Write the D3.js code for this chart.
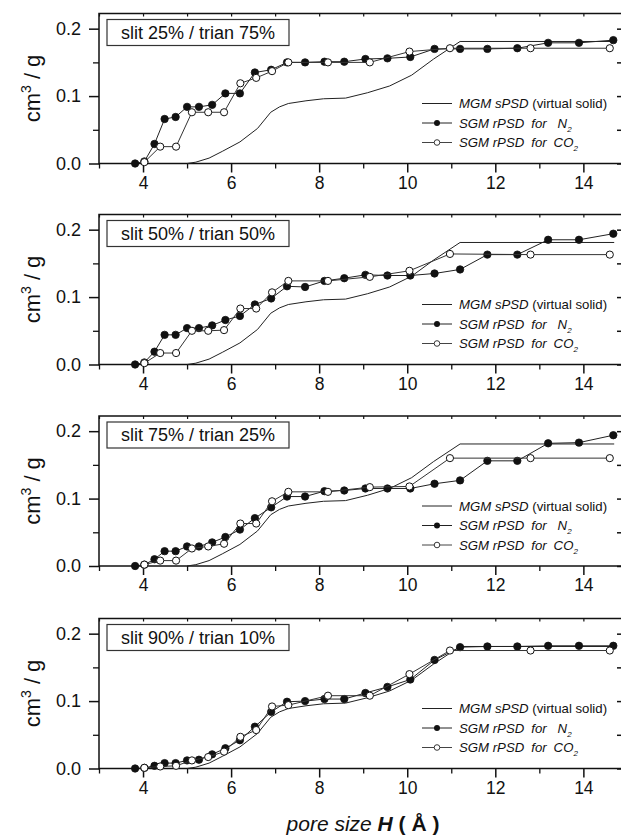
<!DOCTYPE html>
<html>
<head>
<meta charset="utf-8">
<script src="https://cdn.jsdelivr.net/npm/d3@7"></script>
<style>
  html, body { margin: 0; padding: 0; background: #fff; }
  svg { display: block; font-family: "Liberation Sans", Arial, sans-serif; }
</style>
</head>
<body>
<svg id="chart" width="621" height="836"></svg>
<script>
// Cumulative pore volume (cm3/g) versus pore size H (Å) for four slit/triangular mixtures.
const panelTitles = [
  "slit 25% / trian 75%",
  "slit 50% / trian 50%",
  "slit 75% / trian 25%",
  "slit 90% / trian 10%"
];

// MGM sPSD of the virtual solid (same in every panel)
const mgmX = [5.0, 5.2, 5.5, 5.8, 6.2, 6.6, 6.9, 7.1, 7.3, 7.7, 8.1, 8.6, 9.1, 9.6, 10.1, 10.6, 11.2, 14.7];
const mgmY = [0, 0.002, 0.008, 0.018, 0.032, 0.052, 0.076, 0.084, 0.089, 0.093, 0.096, 0.097, 0.105, 0.115, 0.131, 0.155, 0.181, 0.181];

// SGM rPSD from N2
const n2X = [3.82, 4.03, 4.26, 4.49, 4.74, 5.0, 5.27, 5.57, 5.87, 6.2, 6.54, 6.91, 7.27, 7.68, 8.12, 8.57, 9.05, 9.55, 10.07, 10.62, 11.2, 11.82, 12.5, 13.2, 13.9, 14.68];
const n2Slit25 = [0, 0.003, 0.029, 0.066, 0.069, 0.084, 0.084, 0.087, 0.104, 0.104, 0.135, 0.139, 0.150, 0.150, 0.151, 0.151, 0.155, 0.156, 0.158, 0.170, 0.170, 0.170, 0.171, 0.179, 0.179, 0.183];
const n2Slit50 = [0, 0.003, 0.019, 0.044, 0.044, 0.054, 0.054, 0.058, 0.066, 0.072, 0.089, 0.098, 0.116, 0.115, 0.124, 0.128, 0.133, 0.132, 0.132, 0.135, 0.141, 0.163, 0.163, 0.185, 0.185, 0.194];
const n2Slit75 = [0, 0.002, 0.010, 0.022, 0.022, 0.029, 0.029, 0.035, 0.043, 0.054, 0.071, 0.087, 0.103, 0.103, 0.111, 0.112, 0.115, 0.115, 0.115, 0.122, 0.127, 0.156, 0.156, 0.182, 0.183, 0.194];
const n2Slit90 = [0, 0.001, 0.004, 0.008, 0.008, 0.012, 0.013, 0.021, 0.030, 0.042, 0.062, 0.084, 0.099, 0.100, 0.103, 0.103, 0.112, 0.121, 0.132, 0.161, 0.180, 0.181, 0.181, 0.182, 0.182, 0.182];

// SGM rPSD from CO2
const co2X = [4.03, 4.39, 4.75, 5.11, 5.48, 5.84, 6.21, 6.57, 6.93, 7.30, 8.20, 9.15, 10.05, 10.97, 12.8, 14.6];
const co2Slit25 = [0.002, 0.025, 0.025, 0.076, 0.076, 0.076, 0.119, 0.127, 0.137, 0.150, 0.150, 0.150, 0.166, 0.171, 0.171, 0.171];
const co2Slit50 = [0.002, 0.017, 0.017, 0.050, 0.050, 0.051, 0.083, 0.083, 0.107, 0.124, 0.124, 0.130, 0.139, 0.164, 0.163, 0.163];
const co2Slit75 = [0.002, 0.008, 0.008, 0.026, 0.029, 0.033, 0.063, 0.063, 0.096, 0.110, 0.110, 0.117, 0.118, 0.160, 0.160, 0.160];
const co2Slit90 = [0.001, 0.003, 0.004, 0.012, 0.017, 0.025, 0.047, 0.057, 0.092, 0.094, 0.108, 0.108, 0.140, 0.175, 0.175, 0.175];

const xTicks = [4, 6, 8, 10, 12, 14];
const xMinorTicks = [3, 5, 7, 9, 11, 13];
const yTicks = [0, 0.1, 0.2];
const yMinorTicks = [0.05, 0.15];

const n2Series = [n2Slit25, n2Slit50, n2Slit75, n2Slit90];
const co2Series = [co2Slit25, co2Slit50, co2Slit75, co2Slit90];

const svg = d3.select("#chart");
const left = 99, plotW = 524, plotH = 150;
const bottoms = [163.5, 364.5, 566, 768.5];

const x = d3.scaleLinear().domain([3, 14.9]).range([left, left + plotW]);
const zip = (xs, ys) => xs.map((v, i) => [v, ys[i]]);

panelTitles.forEach((title, p) => {
  const bottom = bottoms[p];
  const top = bottom - plotH;
  const y = d3.scaleLinear().domain([0, 0.2225]).range([bottom, top]);
  const g = svg.append("g");
  const line = d3.line().x(d => x(d[0])).y(d => y(d[1]));

  // frame
  g.append("rect")
    .attr("x", left).attr("y", top)
    .attr("width", plotW).attr("height", plotH)
    .attr("fill", "none").attr("stroke", "#111").attr("stroke-width", 1.5);

  // bottom axis
  const xAxis = g.append("g").attr("transform", `translate(0,${bottom})`)
    .call(d3.axisBottom(x).tickValues(xTicks).tickFormat(d3.format("d")).tickSize(9).tickPadding(4));
  xAxis.select(".domain").remove();
  xAxis.selectAll("line").attr("stroke", "#111").attr("stroke-width", 1.5);
  xAxis.selectAll("text").attr("font-size", 17.5).attr("fill", "#111");
  const xMinor = g.append("g").attr("transform", `translate(0,${bottom})`)
    .call(d3.axisBottom(x).tickValues(xMinorTicks).tickFormat("").tickSize(5));
  xMinor.select(".domain").remove();
  xMinor.selectAll("line").attr("stroke", "#111").attr("stroke-width", 1.3);

  // top axis, inward ticks
  const xTop = g.append("g").attr("transform", `translate(0,${top})`)
    .call(d3.axisBottom(x).tickValues(xTicks.concat(xMinorTicks)).tickFormat("").tickSize(3));
  xTop.select(".domain").remove();
  xTop.selectAll("line").attr("stroke", "#111").attr("stroke-width", 1.2);

  // left axis
  const yAxis = g.append("g").attr("transform", `translate(${left},0)`)
    .call(d3.axisLeft(y).tickValues(yTicks).tickFormat(d3.format(".1f")).tickSize(10).tickPadding(8));
  yAxis.select(".domain").remove();
  yAxis.selectAll("line").attr("stroke", "#111").attr("stroke-width", 1.5);
  yAxis.selectAll("text").attr("font-size", 18).attr("fill", "#111");
  const yMinor = g.append("g").attr("transform", `translate(${left},0)`)
    .call(d3.axisLeft(y).tickValues(yMinorTicks).tickFormat("").tickSize(6));
  yMinor.select(".domain").remove();
  yMinor.selectAll("line").attr("stroke", "#111").attr("stroke-width", 1.3);

  // right axis, inward ticks
  const yRight = g.append("g").attr("transform", `translate(${left + plotW},0)`)
    .call(d3.axisLeft(y).tickValues(yTicks.concat(yMinorTicks)).tickFormat("").tickSize(6));
  yRight.select(".domain").remove();
  yRight.selectAll("line").attr("stroke", "#111").attr("stroke-width", 1.5);

  // y title
  const yt = g.append("text")
    .attr("transform", `translate(40,${(top + bottom) / 2}) rotate(-90)`)
    .attr("text-anchor", "middle")
    .attr("font-size", 22).attr("fill", "#111");
  yt.append("tspan").text("cm");
  yt.append("tspan").attr("font-size", 14).attr("dy", -9).text("3");
  yt.append("tspan").attr("dy", 9).text(" / g");

  // label box
  g.append("rect")
    .attr("x", left + 8).attr("y", top + 6)
    .attr("width", 182).attr("height", 26)
    .attr("fill", "#fff").attr("stroke", "#333").attr("stroke-width", 1.2);
  g.append("text")
    .attr("x", left + 8 + 91).attr("y", top + 6 + 13)
    .attr("dy", "0.36em")
    .attr("text-anchor", "middle")
    .attr("font-size", 18).attr("fill", "#111")
    .text(title);

  // MGM curve
  g.append("path")
    .attr("d", line(zip(mgmX, mgmY)))
    .attr("fill", "none").attr("stroke", "#222").attr("stroke-width", 1);

  // N2 series
  const n2 = zip(n2X, n2Series[p]);
  g.append("path").attr("d", line(n2))
    .attr("fill", "none").attr("stroke", "#222").attr("stroke-width", 1);
  g.selectAll(".n2").data(n2).enter().append("circle")
    .attr("cx", d => x(d[0])).attr("cy", d => y(d[1])).attr("r", 3.7)
    .attr("fill", "#111").attr("stroke", "#111").attr("stroke-width", 0.8);

  // CO2 series
  const co2 = zip(co2X, co2Series[p]);
  g.append("path").attr("d", line(co2))
    .attr("fill", "none").attr("stroke", "#333").attr("stroke-width", 1);
  g.selectAll(".co2").data(co2).enter().append("circle")
    .attr("cx", d => x(d[0])).attr("cy", d => y(d[1])).attr("r", 3.6)
    .attr("fill", "#fff").attr("stroke", "#111").attr("stroke-width", 1);

  // legend
  const lx0 = 422, lx1 = 452, tx = 459;
  const rows = [bottom - 60, bottom - 40.5, bottom - 21];
  const lg = g.append("g").attr("font-size", 13.2).attr("fill", "#111");
  lg.append("line").attr("x1", lx0).attr("x2", lx1).attr("y1", rows[0]).attr("y2", rows[0])
    .attr("stroke", "#222").attr("stroke-width", 1);
  const t0 = lg.append("text").attr("x", tx).attr("y", rows[0]).attr("dy", "0.36em");
  t0.append("tspan").attr("font-style", "italic").text("MGM sPSD");
  t0.append("tspan").text(" (virtual solid)");

  lg.append("line").attr("x1", lx0).attr("x2", lx1).attr("y1", rows[1]).attr("y2", rows[1])
    .attr("stroke", "#222").attr("stroke-width", 1);
  lg.append("circle").attr("cx", (lx0 + lx1) / 2).attr("cy", rows[1]).attr("r", 3)
    .attr("fill", "#111");
  const t1 = lg.append("text").attr("x", tx).attr("y", rows[1]).attr("dy", "0.36em")
    .attr("font-style", "italic");
  t1.append("tspan").text("SGM rPSD");
  t1.append("tspan").attr("dx", 7).text("for");
  t1.append("tspan").attr("dx", 11).text("N");
  t1.append("tspan").attr("font-size", 8).attr("dy", 4).text("2");

  lg.append("line").attr("x1", lx0).attr("x2", lx1).attr("y1", rows[2]).attr("y2", rows[2])
    .attr("stroke", "#444").attr("stroke-width", 1);
  lg.append("circle").attr("cx", (lx0 + lx1) / 2).attr("cy", rows[2]).attr("r", 2.8)
    .attr("fill", "#fff").attr("stroke", "#222").attr("stroke-width", 0.9);
  const t2 = lg.append("text").attr("x", tx).attr("y", rows[2]).attr("dy", "0.36em")
    .attr("font-style", "italic");
  t2.append("tspan").text("SGM rPSD");
  t2.append("tspan").attr("dx", 7).text("for");
  t2.append("tspan").attr("dx", 7).text("CO");
  t2.append("tspan").attr("font-size", 8).attr("dy", 4).text("2");
});

// x title
const xt = svg.append("text")
  .attr("x", 363).attr("y", 831)
  .attr("text-anchor", "middle")
  .attr("font-size", 21).attr("fill", "#111");
xt.append("tspan").attr("font-style", "italic").text("pore size ");
xt.append("tspan").attr("font-style", "italic").attr("font-weight", "bold").text("H");
xt.append("tspan").attr("font-weight", "bold").text(" ( Å )");
</script>
</body>
</html>
